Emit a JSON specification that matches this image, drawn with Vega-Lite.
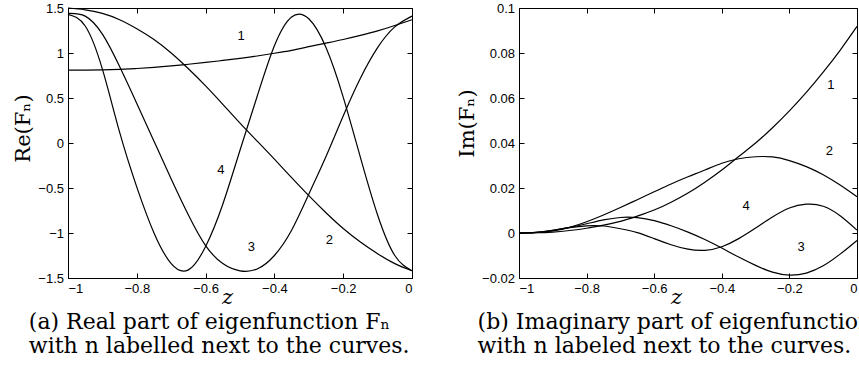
{
  "$schema": "https://vega.github.io/schema/vega-lite/v6.json",
  "padding": {"left": 12, "top": 1, "right": 0, "bottom": 0},
  "background": "white",
  "spacing": 41,
  "config": {
    "view": {"stroke": "black", "strokeWidth": 1},
    "axis": {
      "labelFont": "Liberation Sans", "labelFontSize": 13, "labelColor": "black",
      "tickColor": "black", "domainColor": "black", "grid": false,
      "tickSize": -5, "labelPadding": 9.5,
      "titleFont": "DejaVu Serif", "titleFontWeight": "normal", "titleFontSize": 21, "titleColor": "black"
    }
  },
  "datasets": {
    "re": [
      {"n": "1", "z": -1, "v": 0.81}, {"n": "1", "z": -0.95, "v": 0.81}, {"n": "1", "z": -0.9, "v": 0.812}, {"n": "1", "z": -0.85, "v": 0.818}, {"n": "1", "z": -0.8, "v": 0.828}, {"n": "1", "z": -0.75, "v": 0.84}, {"n": "1", "z": -0.7, "v": 0.856}, {"n": "1", "z": -0.65, "v": 0.875}, {"n": "1", "z": -0.6, "v": 0.895}, {"n": "1", "z": -0.55, "v": 0.917}, {"n": "1", "z": -0.5, "v": 0.94}, {"n": "1", "z": -0.45, "v": 0.967}, {"n": "1", "z": -0.4, "v": 0.997}, {"n": "1", "z": -0.35, "v": 1.03}, {"n": "1", "z": -0.3, "v": 1.07}, {"n": "1", "z": -0.25, "v": 1.11}, {"n": "1", "z": -0.2, "v": 1.15}, {"n": "1", "z": -0.15, "v": 1.195}, {"n": "1", "z": -0.1, "v": 1.245}, {"n": "1", "z": -0.05, "v": 1.305}, {"n": "1", "z": 0, "v": 1.37},
      {"n": "2", "z": -1, "v": 1.5}, {"n": "2", "z": -0.95, "v": 1.48}, {"n": "2", "z": -0.9, "v": 1.44}, {"n": "2", "z": -0.85, "v": 1.37}, {"n": "2", "z": -0.8, "v": 1.27}, {"n": "2", "z": -0.75, "v": 1.15}, {"n": "2", "z": -0.7, "v": 1.0}, {"n": "2", "z": -0.65, "v": 0.825}, {"n": "2", "z": -0.6, "v": 0.635}, {"n": "2", "z": -0.55, "v": 0.43}, {"n": "2", "z": -0.5, "v": 0.22}, {"n": "2", "z": -0.45, "v": 0.02}, {"n": "2", "z": -0.4, "v": -0.18}, {"n": "2", "z": -0.35, "v": -0.385}, {"n": "2", "z": -0.3, "v": -0.585}, {"n": "2", "z": -0.25, "v": -0.775}, {"n": "2", "z": -0.2, "v": -0.95}, {"n": "2", "z": -0.15, "v": -1.1}, {"n": "2", "z": -0.1, "v": -1.23}, {"n": "2", "z": -0.05, "v": -1.34}, {"n": "2", "z": 0, "v": -1.42},
      {"n": "3", "z": -1, "v": 1.44}, {"n": "3", "z": -0.95, "v": 1.41}, {"n": "3", "z": -0.9, "v": 1.21}, {"n": "3", "z": -0.85, "v": 0.85}, {"n": "3", "z": -0.8, "v": 0.44}, {"n": "3", "z": -0.75, "v": 0.02}, {"n": "3", "z": -0.7, "v": -0.4}, {"n": "3", "z": -0.65, "v": -0.8}, {"n": "3", "z": -0.6, "v": -1.14}, {"n": "3", "z": -0.55, "v": -1.34}, {"n": "3", "z": -0.5, "v": -1.42}, {"n": "3", "z": -0.45, "v": -1.4}, {"n": "3", "z": -0.4, "v": -1.25}, {"n": "3", "z": -0.35, "v": -0.97}, {"n": "3", "z": -0.3, "v": -0.57}, {"n": "3", "z": -0.25, "v": -0.15}, {"n": "3", "z": -0.2, "v": 0.3}, {"n": "3", "z": -0.15, "v": 0.72}, {"n": "3", "z": -0.1, "v": 1.06}, {"n": "3", "z": -0.05, "v": 1.29}, {"n": "3", "z": 0, "v": 1.41},
      {"n": "4", "z": -1, "v": 1.43}, {"n": "4", "z": -0.95, "v": 1.3}, {"n": "4", "z": -0.9, "v": 0.82}, {"n": "4", "z": -0.85, "v": 0.12}, {"n": "4", "z": -0.8, "v": -0.49}, {"n": "4", "z": -0.75, "v": -1.0}, {"n": "4", "z": -0.7, "v": -1.34}, {"n": "4", "z": -0.65, "v": -1.41}, {"n": "4", "z": -0.6, "v": -1.15}, {"n": "4", "z": -0.55, "v": -0.68}, {"n": "4", "z": -0.5, "v": -0.08}, {"n": "4", "z": -0.45, "v": 0.52}, {"n": "4", "z": -0.4, "v": 1.08}, {"n": "4", "z": -0.35, "v": 1.4}, {"n": "4", "z": -0.3, "v": 1.38}, {"n": "4", "z": -0.25, "v": 1.06}, {"n": "4", "z": -0.2, "v": 0.51}, {"n": "4", "z": -0.15, "v": -0.16}, {"n": "4", "z": -0.1, "v": -0.8}, {"n": "4", "z": -0.05, "v": -1.25}, {"n": "4", "z": 0, "v": -1.42}
    ],
    "im": [
      {"n": "1", "z": -1, "v": 0}, {"n": "1", "z": -0.95, "v": 0.0001}, {"n": "1", "z": -0.9, "v": 0.0004}, {"n": "1", "z": -0.85, "v": 0.0011}, {"n": "1", "z": -0.8, "v": 0.0021}, {"n": "1", "z": -0.75, "v": 0.0035}, {"n": "1", "z": -0.7, "v": 0.0052}, {"n": "1", "z": -0.65, "v": 0.0075}, {"n": "1", "z": -0.6, "v": 0.0102}, {"n": "1", "z": -0.55, "v": 0.0137}, {"n": "1", "z": -0.5, "v": 0.0178}, {"n": "1", "z": -0.45, "v": 0.0226}, {"n": "1", "z": -0.4, "v": 0.028}, {"n": "1", "z": -0.35, "v": 0.034}, {"n": "1", "z": -0.3, "v": 0.04}, {"n": "1", "z": -0.25, "v": 0.0468}, {"n": "1", "z": -0.2, "v": 0.0543}, {"n": "1", "z": -0.15, "v": 0.0625}, {"n": "1", "z": -0.1, "v": 0.0715}, {"n": "1", "z": -0.05, "v": 0.0812}, {"n": "1", "z": 0, "v": 0.0918},
      {"n": "2", "z": -1, "v": 0}, {"n": "2", "z": -0.95, "v": 0.0002}, {"n": "2", "z": -0.9, "v": 0.0009}, {"n": "2", "z": -0.85, "v": 0.0025}, {"n": "2", "z": -0.8, "v": 0.005}, {"n": "2", "z": -0.75, "v": 0.008}, {"n": "2", "z": -0.7, "v": 0.0113}, {"n": "2", "z": -0.65, "v": 0.0148}, {"n": "2", "z": -0.6, "v": 0.0183}, {"n": "2", "z": -0.55, "v": 0.0218}, {"n": "2", "z": -0.5, "v": 0.025}, {"n": "2", "z": -0.45, "v": 0.028}, {"n": "2", "z": -0.4, "v": 0.031}, {"n": "2", "z": -0.35, "v": 0.033}, {"n": "2", "z": -0.3, "v": 0.0339}, {"n": "2", "z": -0.25, "v": 0.0338}, {"n": "2", "z": -0.2, "v": 0.0322}, {"n": "2", "z": -0.15, "v": 0.0295}, {"n": "2", "z": -0.1, "v": 0.0259}, {"n": "2", "z": -0.05, "v": 0.0213}, {"n": "2", "z": 0, "v": 0.0161},
      {"n": "3", "z": -1, "v": 0}, {"n": "3", "z": -0.95, "v": 0.0003}, {"n": "3", "z": -0.9, "v": 0.0012}, {"n": "3", "z": -0.85, "v": 0.0025}, {"n": "3", "z": -0.8, "v": 0.0041}, {"n": "3", "z": -0.75, "v": 0.0058}, {"n": "3", "z": -0.7, "v": 0.0069}, {"n": "3", "z": -0.65, "v": 0.0068}, {"n": "3", "z": -0.6, "v": 0.0055}, {"n": "3", "z": -0.55, "v": 0.0032}, {"n": "3", "z": -0.5, "v": 0.0004}, {"n": "3", "z": -0.45, "v": -0.0029}, {"n": "3", "z": -0.4, "v": -0.0067}, {"n": "3", "z": -0.35, "v": -0.0107}, {"n": "3", "z": -0.3, "v": -0.0144}, {"n": "3", "z": -0.25, "v": -0.0174}, {"n": "3", "z": -0.2, "v": -0.0187}, {"n": "3", "z": -0.15, "v": -0.0178}, {"n": "3", "z": -0.1, "v": -0.0146}, {"n": "3", "z": -0.05, "v": -0.0094}, {"n": "3", "z": 0, "v": -0.0033},
      {"n": "4", "z": -1, "v": 0}, {"n": "4", "z": -0.95, "v": 0.0003}, {"n": "4", "z": -0.9, "v": 0.0012}, {"n": "4", "z": -0.85, "v": 0.0024}, {"n": "4", "z": -0.8, "v": 0.0032}, {"n": "4", "z": -0.75, "v": 0.0031}, {"n": "4", "z": -0.7, "v": 0.0019}, {"n": "4", "z": -0.65, "v": 0.0002}, {"n": "4", "z": -0.6, "v": -0.0025}, {"n": "4", "z": -0.55, "v": -0.0052}, {"n": "4", "z": -0.5, "v": -0.0072}, {"n": "4", "z": -0.45, "v": -0.0077}, {"n": "4", "z": -0.4, "v": -0.0061}, {"n": "4", "z": -0.35, "v": -0.0025}, {"n": "4", "z": -0.3, "v": 0.0022}, {"n": "4", "z": -0.25, "v": 0.0071}, {"n": "4", "z": -0.2, "v": 0.0111}, {"n": "4", "z": -0.15, "v": 0.0128}, {"n": "4", "z": -0.1, "v": 0.0119}, {"n": "4", "z": -0.05, "v": 0.0077}, {"n": "4", "z": 0, "v": 0.0013}
    ],
    "relab": [
      {"n": "1", "z": -0.497, "v": 1.19}, {"n": "4", "z": -0.556, "v": -0.3}, {"n": "3", "z": -0.467, "v": -1.155}, {"n": "2", "z": -0.24, "v": -1.08}
    ],
    "imlab": [
      {"n": "1", "z": -0.077, "v": 0.066}, {"n": "2", "z": -0.082, "v": 0.0364}, {"n": "4", "z": -0.328, "v": 0.0121}, {"n": "3", "z": -0.165, "v": -0.0061}
    ]
  },
  "hconcat": [
    {
      "width": 344, "height": 270,
      "title": {"text": ["(a) Real part of eigenfunction Fₙ", "with n labelled next to the curves."], "orient": "bottom", "anchor": "start", "frame": "bounds", "dx": 16, "offset": 4, "font": "DejaVu Serif", "fontSize": 22, "fontWeight": "normal", "lineHeight": 24, "color": "black"},
      "layer": [
        {
          "data": {"name": "re"},
          "mark": {"type": "line", "color": "black", "strokeWidth": 1.2, "interpolate": "natural"},
          "encoding": {
            "x": {"field": "z", "type": "quantitative", "scale": {"domain": [-1, 0], "nice": false}, "axis": {"values": [-1, -0.8, -0.6, -0.4, -0.2, 0], "format": "~g", "title": "z", "titleFontStyle": "italic", "titlePadding": -9, "titleX": 159}},
            "y": {"field": "v", "type": "quantitative", "scale": {"domain": [-1.5, 1.5], "nice": false}, "axis": {"values": [-1.5, -1, -0.5, 0, 0.5, 1, 1.5], "format": "~g", "title": "Re(Fₙ)", "titlePadding": 4, "titleY": 120}},
            "detail": {"field": "n"}
          }
        },
        {
          "data": {"name": "relab"},
          "mark": {"type": "text", "font": "Liberation Sans", "fontSize": 13, "color": "black", "align": "center", "baseline": "middle"},
          "encoding": {
            "x": {"field": "z", "type": "quantitative", "axis": {"orient": "top", "values": [-1, -0.8, -0.6, -0.4, -0.2, 0], "labels": false, "domain": false, "title": null}},
            "y": {"field": "v", "type": "quantitative", "axis": {"orient": "right", "values": [-1.5, -1, -0.5, 0, 0.5, 1, 1.5], "labels": false, "domain": false, "title": null}},
            "text": {"field": "n"}
          }
        }
      ],
      "resolve": {"axis": {"x": "independent", "y": "independent"}}
    },
    {
      "width": 338, "height": 270,
      "title": {"text": ["(b) Imaginary part of eigenfunction Fₙ", "with n labeled next to the curves."], "orient": "bottom", "anchor": "start", "frame": "bounds", "dx": 21, "offset": 4, "font": "DejaVu Serif", "fontSize": 22, "fontWeight": "normal", "lineHeight": 24, "color": "black"},
      "layer": [
        {
          "data": {"name": "im"},
          "mark": {"type": "line", "color": "black", "strokeWidth": 1.2, "interpolate": "natural"},
          "encoding": {
            "x": {"field": "z", "type": "quantitative", "scale": {"domain": [-1, 0], "nice": false}, "axis": {"values": [-1, -0.8, -0.6, -0.4, -0.2, 0], "format": "~g", "title": "z", "titleFontStyle": "italic", "titlePadding": -9, "titleX": 157}},
            "y": {"field": "v", "type": "quantitative", "scale": {"domain": [-0.02, 0.1], "nice": false}, "axis": {"values": [-0.02, 0, 0.02, 0.04, 0.06, 0.08, 0.1], "format": "~g", "title": "Im(Fₙ)", "titlePadding": 4, "titleY": 115}},
            "detail": {"field": "n"}
          }
        },
        {
          "data": {"name": "imlab"},
          "mark": {"type": "text", "font": "Liberation Sans", "fontSize": 13, "color": "black", "align": "center", "baseline": "middle"},
          "encoding": {
            "x": {"field": "z", "type": "quantitative", "axis": {"orient": "top", "values": [-1, -0.8, -0.6, -0.4, -0.2, 0], "labels": false, "domain": false, "title": null}},
            "y": {"field": "v", "type": "quantitative", "axis": {"orient": "right", "values": [-0.02, 0, 0.02, 0.04, 0.06, 0.08, 0.1], "labels": false, "domain": false, "title": null}},
            "text": {"field": "n"}
          }
        }
      ],
      "resolve": {"axis": {"x": "independent", "y": "independent"}}
    }
  ]
}
